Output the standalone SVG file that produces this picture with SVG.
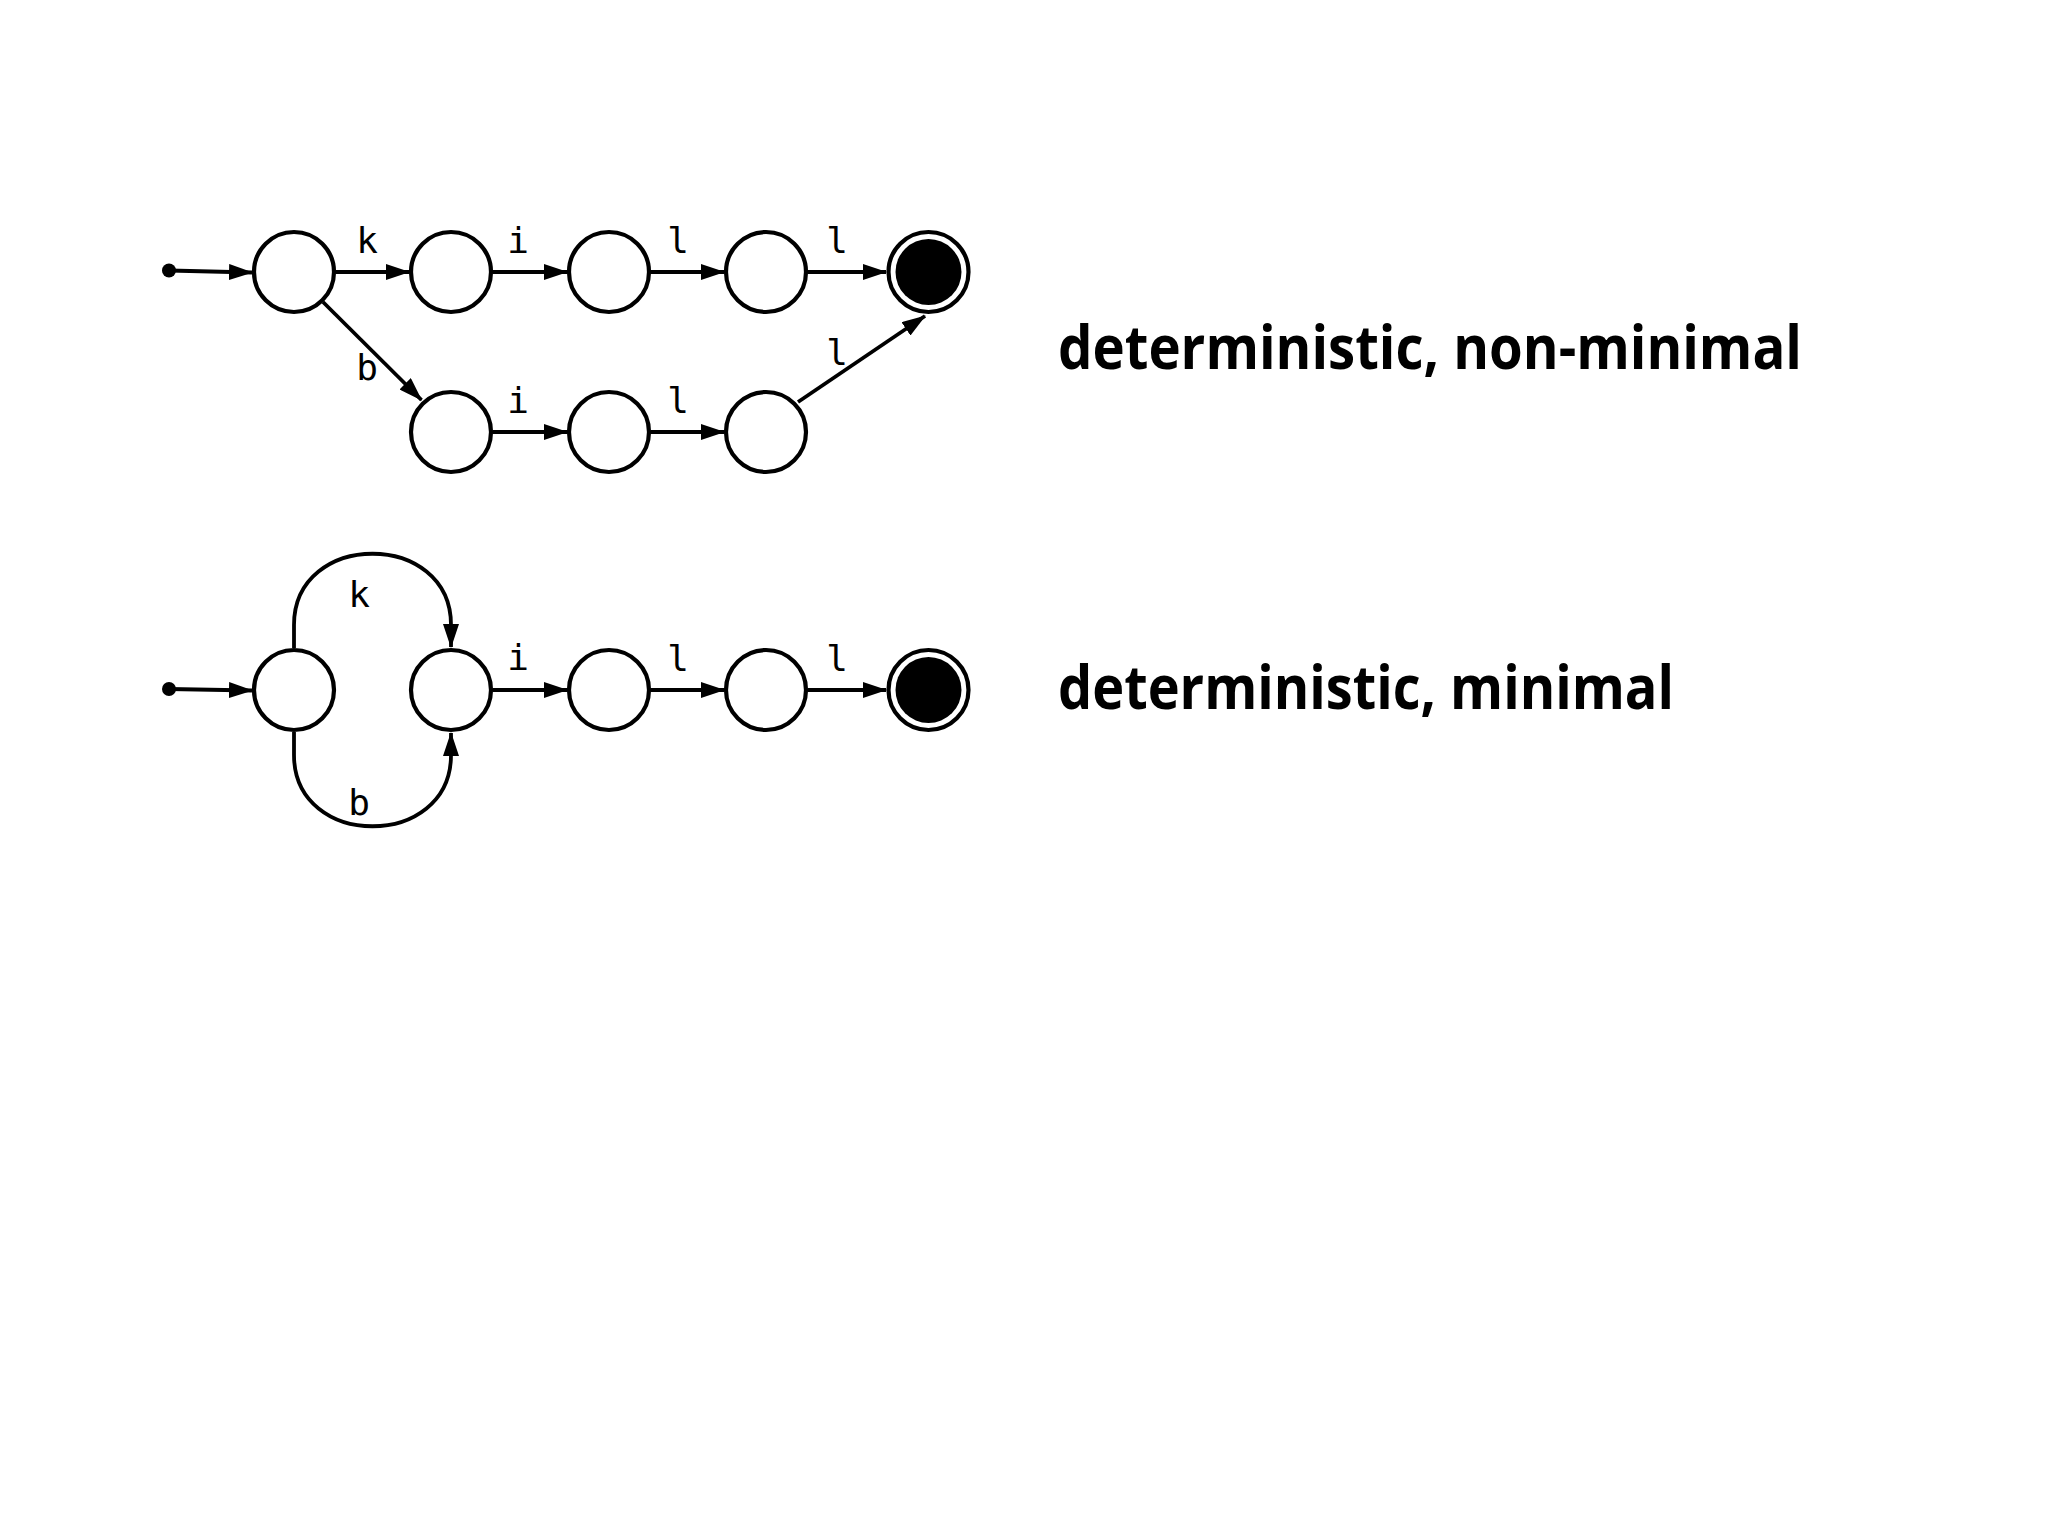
<svg xmlns="http://www.w3.org/2000/svg" width="2048" height="1536" viewBox="0 0 2048 1536">
<defs>
<style>
.st{fill:#fff;stroke:#000;stroke-width:4.2}
.fin{fill:#000}
.e{fill:none;stroke:#000;stroke-width:3.8;marker-end:url(#ah)}
.lb{font-family:"DejaVu Sans Mono","Liberation Mono",monospace;font-size:36px;fill:#000;text-anchor:middle}
.ttl{font-family:"Open Sans","Noto Sans",sans-serif;font-weight:700;font-size:60px;fill:#000}
</style>
<marker id="ah" markerUnits="userSpaceOnUse" markerWidth="24" markerHeight="16" refX="23" refY="8" orient="auto">
<path d="M0,0 L24,8 L0,16 z" fill="#000"/>
</marker>
</defs>
<rect width="2048" height="1536" fill="#fff"/>
<g id="connectors">
<circle cx="169" cy="270.5" r="7" fill="#000"/>
<path class="e" d="M169,270.5 L252,272.5"/>
<path class="e" d="M336,272 L409,272"/>
<path class="e" d="M493,272 L567,272"/>
<path class="e" d="M651,272 L724,272"/>
<path class="e" d="M808,272 L886,272"/>
<path class="e" d="M323,302 L421.5,400"/>
<path class="e" d="M493,432 L567,432"/>
<path class="e" d="M651,432 L724,432"/>
<path class="e" d="M798,402 L925,316"/>
<circle cx="169" cy="689" r="7" fill="#000"/>
<path class="e" d="M169,689 L252,690.5"/>
<path class="e" d="M294,648 L294,625 C294,530 451,530 451,625 L451,647"/>
<path class="e" d="M294,732 L294,755 C294,850 451,850 451,755 L451,733"/>
<path class="e" d="M493,690 L567,690"/>
<path class="e" d="M651,690 L724,690"/>
<path class="e" d="M808,690 L886,690"/>
</g>
<g id="labels">
<text class="lb" x="367" y="253">k</text>
<text class="lb" x="518" y="253">i</text>
<text class="lb" x="678" y="253">l</text>
<text class="lb" x="837" y="253">l</text>
<text class="lb" x="367" y="380">b</text>
<text class="lb" x="518" y="413">i</text>
<text class="lb" x="678" y="413">l</text>
<text class="lb" x="837" y="365">l</text>
<text class="lb" x="359" y="607">k</text>
<text class="lb" x="359" y="815">b</text>
<text class="lb" x="518" y="670">i</text>
<text class="lb" x="678" y="671">l</text>
<text class="lb" x="837" y="671">l</text>
</g>
<g id="a1"><circle class="st" cx="294" cy="272" r="40"/></g>
<g id="a2"><circle class="st" cx="451" cy="272" r="40"/></g>
<g id="a3"><circle class="st" cx="609" cy="272" r="40"/></g>
<g id="a4"><circle class="st" cx="766" cy="272" r="40"/></g>
<g id="a5"><circle class="st" cx="928.5" cy="272" r="40"/><circle class="fin" cx="928.5" cy="272" r="33"/></g>
<g id="a6"><circle class="st" cx="451" cy="432" r="40"/></g>
<g id="a7"><circle class="st" cx="609" cy="432" r="40"/></g>
<g id="a8"><circle class="st" cx="766" cy="432" r="40"/></g>
<g id="b1"><circle class="st" cx="294" cy="690" r="40"/></g>
<g id="b2"><circle class="st" cx="451" cy="690" r="40"/></g>
<g id="b3"><circle class="st" cx="609" cy="690" r="40"/></g>
<g id="b4"><circle class="st" cx="766" cy="690" r="40"/></g>
<g id="b5"><circle class="st" cx="928.5" cy="690" r="40"/><circle class="fin" cx="928.5" cy="690" r="33"/></g>
<g id="titles">
<text class="ttl" x="1058" y="369" textLength="744" lengthAdjust="spacingAndGlyphs">deterministic, non-minimal</text>
<text class="ttl" x="1058" y="709" textLength="616" lengthAdjust="spacingAndGlyphs">deterministic, minimal</text>
</g>
</svg>
